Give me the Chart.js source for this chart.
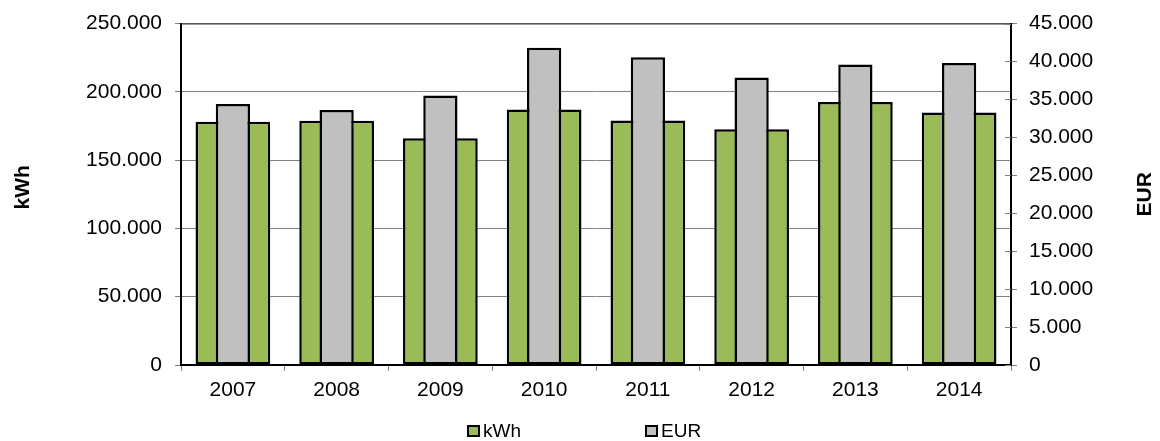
<!DOCTYPE html>
<html>
<head>
<meta charset="utf-8">
<script src="https://cdn.jsdelivr.net/npm/chart.js@4.4.1/dist/chart.umd.min.js"></script>
<style>
  html, body { margin: 0; padding: 0; background: #fff; }
  #wrap { width: 1160px; height: 441px; position: relative; }
</style>
</head>
<body>
<div id="wrap"><canvas id="chart"></canvas></div>
<script>
// Yearly consumption and cost
const years = ['2007', '2008', '2009', '2010', '2011', '2012', '2013', '2014'];
const kwhValues = [178000, 178800, 166000, 187000, 179000, 172500, 192600, 184800];
const eurValues = [34400, 33600, 35500, 41800, 40550, 37900, 39600, 39800];

const kwhLabel = 'kWh';
const eurLabel = 'EUR';
const kwhAxisMax = 250000;
const kwhAxisStep = 50000;
const eurAxisMax = 45000;
const eurAxisStep = 5000;

const FONT = '"Liberation Sans", Arial, sans-serif';
const GREEN = '#9BBB59';
const GREY = '#C0C0C0';
const GRID = '#808080';

// German thousands separator: 250000 -> 250.000
function fmt(v) {
  return String(Math.round(v)).replace(/\B(?=(\d{3})+(?!\d))/g, '.');
}

// Frame edge, inner tick marks of the EUR axis, rotated axis titles and legend
const extras = {
  id: 'extras',
  afterDraw(chart) {
    const { ctx, chartArea: a, scales } = chart;
    ctx.save();

    ctx.strokeStyle = '#333';
    ctx.lineWidth = 1;
    ctx.beginPath();
    ctx.moveTo(a.left, a.top + 0.5);
    ctx.lineTo(a.right, a.top + 0.5);
    ctx.stroke();

    const y1 = scales.y1;
    ctx.strokeStyle = GRID;
    y1.ticks.forEach((t, i) => {
      const y = Math.round(y1.getPixelForTick(i)) + 0.5;
      ctx.beginPath();
      ctx.moveTo(a.right - 6, y);
      ctx.lineTo(a.right, y);
      ctx.stroke();
    });

    ctx.fillStyle = '#000';
    ctx.font = 'bold 21px ' + FONT;
    ctx.textAlign = 'center';
    ctx.textBaseline = 'middle';
    const mid = (a.top + a.bottom) / 2;
    ctx.save();
    ctx.translate(23, mid - 7);
    ctx.rotate(-Math.PI / 2);
    ctx.fillText(kwhLabel, 0, 0);
    ctx.restore();
    ctx.save();
    ctx.translate(1145, mid);
    ctx.rotate(-Math.PI / 2);
    ctx.fillText(eurLabel, 0, 0);
    ctx.restore();

    // legend
    const ly = 431;
    const starts = [468, 646];
    ctx.font = '19px ' + FONT;
    ctx.textAlign = 'left';
    chart.data.datasets.forEach((ds, i) => {
      const x = starts[i];
      ctx.fillStyle = ds.backgroundColor;
      ctx.fillRect(x, ly - 5, 11, 10);
      ctx.strokeStyle = '#000';
      ctx.lineWidth = 2;
      ctx.strokeRect(x, ly - 5, 11, 10);
      ctx.fillStyle = '#000';
      ctx.fillText(ds.label, x + 15, ly + 1);
    });

    ctx.restore();
  }
};

new Chart(document.getElementById('chart'), {
  type: 'bar',
  data: {
    labels: years,
    datasets: [
      {
        label: kwhLabel,
        data: kwhValues,
        yAxisID: 'y',
        backgroundColor: GREEN,
        borderColor: '#000',
        borderWidth: 2.5,
        borderSkipped: false,
        grouped: false,
        barPercentage: 0.72,
        categoryPercentage: 1,
        order: 1
      },
      {
        label: eurLabel,
        data: eurValues,
        yAxisID: 'y1',
        backgroundColor: GREY,
        borderColor: '#000',
        borderWidth: 2.5,
        borderSkipped: false,
        grouped: false,
        barPercentage: 0.33,
        categoryPercentage: 1,
        order: 0
      }
    ]
  },
  options: {
    responsive: true,
    maintainAspectRatio: false,
    animation: false,
    devicePixelRatio: 1,
    layout: { padding: { top: 19, left: 0, right: 0, bottom: 0 } },
    plugins: {
      legend: { display: false },
      tooltip: { enabled: false }
    },
    scales: {
      x: {
        offset: true,
        grid: { drawOnChartArea: false, offset: true, tickLength: 6, color: GRID },
        border: { color: '#000', width: 2 },
        ticks: { color: '#000', font: { family: FONT, size: 21 }, padding: 7, maxRotation: 0 },
        afterFit(scale) { scale.height = 76; }
      },
      y: {
        position: 'left',
        min: 0,
        max: kwhAxisMax,
        grid: { color: GRID, tickLength: 6, tickColor: GRID },
        border: { color: '#000', width: 2 },
        ticks: {
          stepSize: kwhAxisStep,
          color: '#000',
          padding: 13,
          font: { family: FONT, size: 21, lineHeight: 1 },
          callback: (v) => fmt(v)
        },
        afterFit(scale) { scale.width = 181; }
      },
      y1: {
        position: 'right',
        min: 0,
        max: eurAxisMax,
        grid: { drawOnChartArea: false, tickLength: 6, color: GRID },
        border: { color: '#000', width: 2 },
        ticks: {
          stepSize: eurAxisStep,
          color: '#000',
          padding: 12,
          font: { family: FONT, size: 21, lineHeight: 1 },
          callback: (v) => fmt(v)
        },
        afterFit(scale) { scale.width = 149; }
      }
    }
  },
  plugins: [extras]
});
</script>
</body>
</html>
